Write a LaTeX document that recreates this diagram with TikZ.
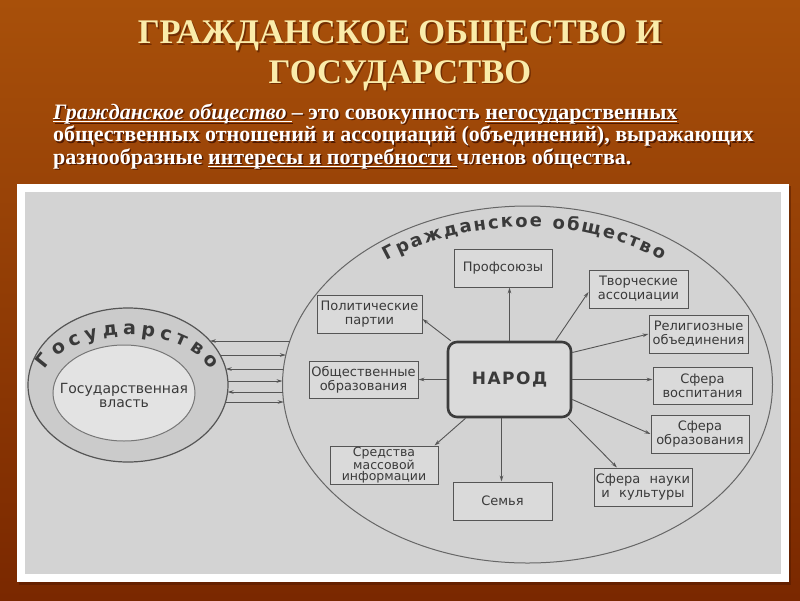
\documentclass[tikz,border=0pt]{standalone}
\usepackage{fontspec}
\setmainfont{Liberation Serif}
\newfontfamily\dgfont{DejaVu Sans}
\usetikzlibrary{arrows.meta,decorations.text,shapes.geometric}
\definecolor{grayb}{HTML}{D3D3D3}
\definecolor{boxf}{HTML}{DADADA}
\definecolor{linec}{HTML}{555555}
\definecolor{txtc}{HTML}{3A3A3A}
\definecolor{ringf}{HTML}{CBCBCB}
\definecolor{innerf}{HTML}{E3E3E3}
\definecolor{titlec}{RGB}{250,236,170}
\definecolor{bgtop}{RGB}{168,80,10}
\definecolor{bgmid}{RGB}{198,104,24}
\definecolor{bgbot}{RGB}{122,40,0}
\definecolor{shadc}{RGB}{80,25,0}
\newcommand\myul[1]{\setbox0\hbox{#1}\rlap{\rule[-3.4pt]{\wd0}{1.4pt}}\box0}
\newcommand\plA{{\itshape\myul{Гражданское общество }}– это совокупность \myul{негосударственных}}
\newcommand\plB{общественных отношений и ассоциаций (объединений), выражающих}
\newcommand\plC{разнообразные \myul{интересы и потребности }членов общества.}
\begin{document}
\begin{tikzpicture}[x=1pt,y=-1pt,
  bx/.style={draw=linec, fill=boxf, line width=1pt, align=center, inner sep=1pt, text=txtc,
    font=\dgfont\fontsize{13}{14}\selectfont, minimum height=38pt},
  arr/.style={draw=linec, line width=0.9pt, -{Stealth[length=6pt,width=3.6pt]}},
  ptext/.style={anchor=base west, inner sep=0pt, font=\fontsize{22}{24}\selectfont\bfseries},
  ttext/.style={anchor=base, inner sep=0pt, font=\fontsize{34.5}{40}\selectfont\bfseries}]
\useasboundingbox (0,0) rectangle (800,600);
\shade[top color=bgtop, middle color=bgmid, bottom color=bgbot] (0,0) rectangle (800,600);
% frame
\fill[shadc, opacity=.5] (19,186) rectangle (791,585);
\fill[white] (17,184) rectangle (789,582);
\fill[grayb] (25,192) rectangle (781,574);
% title
\node[ttext, text=shadc, opacity=.6] (t1s) at (401.5,45) {ГРАЖДАНСКОЕ ОБЩЕСТВО И};
\node[ttext, text=titlec] (t1) at (400,43.5) {ГРАЖДАНСКОЕ ОБЩЕСТВО И};
\node[ttext, text=shadc, opacity=.6] (t2s) at (401.5,84.5) {ГОСУДАРСТВО};
\node[ttext, text=titlec] (t2) at (400,83) {ГОСУДАРСТВО};
% paragraph
\node[ptext, text=shadc] (p1s) at (54.5,120.5) {\plA};
\node[ptext, text=white] (p1) at (53,119) {\plA};
\node[ptext, text=shadc] (p2s) at (54.5,143) {\plB};
\node[ptext, text=white] (p2) at (53,141.5) {\plB};
\node[ptext, text=shadc] (p3s) at (54.5,165.5) {\plC};
\node[ptext, text=white] (p3) at (53,164) {\plC};
% ellipses
\node[ellipse, draw=linec!90, line width=1pt, minimum width=490pt, minimum height=357pt, inner sep=0pt] (soc) at (527.5,384.5) {};
\node[ellipse, draw=linec, fill=ringf, line width=1.2pt, minimum width=200pt, minimum height=154pt, inner sep=0pt] (gos) at (128,385) {};
\node[ellipse, draw=linec!80, fill=innerf, line width=1pt, minimum width=142pt, minimum height=96pt, inner sep=0pt] (gosin) at (124,393) {};
\node[text=txtc, font=\dgfont\fontsize{14}{14}\selectfont, align=center] (vlast) at (124,395) {Государственная\\власть};
\path[decorate, decoration={text along path, text={|\dgfont\bfseries\fontsize{19}{19}\selectfont|Государство}, text align=fit to path, text color=txtc}]
  (45.31,369.87) arc[start angle=200, end angle=340, x radius=88, y radius=53];
\path[decorate, decoration={text along path, text={|\dgfont\bfseries\fontsize{18}{18}\selectfont|Гражданское общество}, text align=fit to path, text color=txtc}]
  (387.0,260.9) arc[start angle=233.5, end angle=306.2, x radius=232, y radius=173];
% boxes
\node[bx, minimum width=98pt] (prof) at (503,268) {Профсоюзы};
\node[bx, minimum width=99pt] (tvor) at (638.5,289) {Творческие\\ассоциации};
\node[bx, minimum width=105pt] (polit) at (369.5,314) {Политические\\партии};
\node[bx, minimum width=99pt] (relig) at (698.5,334) {Религиозные\\объединения};
\node[bx, minimum width=109pt, minimum height=37pt] (obsh) at (363.5,379.5) {Общественные\\образования};
\node[bx, minimum width=99pt, minimum height=37pt] (vosp) at (702.5,385.5) {Сфера\\воспитания};
\node[bx, minimum width=98pt] (obraz) at (700,434) {Сфера\\образования};
\node[bx, minimum width=98pt] (nauka) at (643,487) {Сфера\hspace{0.4em} науки\\и\hspace{0.4em} культуры};
\node[bx, minimum width=99pt] (sem) at (502.5,501) {Семья};
\node[bx, minimum width=108pt, font=\dgfont\fontsize{12.5}{11}\selectfont] (smi) at (384,465) {Средства\\массовой\\информации};
\node[draw={rgb,255:red,60;green,60;blue,60}, fill=boxf, line width=2.6pt, rounded corners=9pt,
  minimum width=123pt, minimum height=75pt, text=txtc,
  font=\dgfont\bfseries\fontsize{17}{17}\selectfont] (narod) at (509.5,379.5) {Н\kern1.5pt А\kern1.5pt Р\kern1.5pt О\kern1.5pt Д};
% arrows from narod
\draw[arr] (narod.north) -- (narod.north |- prof.south);
\draw[arr] ([xshift=46pt]narod.north) -- ([yshift=-3pt]tvor.west);
\draw[arr] ([yshift=27pt]narod.east) -- (relig.west);
\draw[arr] (narod.east) -- (narod.east -| vosp.west);
\draw[arr] ([yshift=-20pt]narod.east) -- (obraz.west);
\draw[arr] ([xshift=-4pt]narod.south east) -- ([xshift=-26pt]nauka.north);
\draw[arr] ([xshift=-8pt]narod.south) -- ([xshift=-8pt]narod.south |- sem.north);
\draw[arr] ([xshift=-44pt]narod.south) -- ([xshift=-4pt]smi.north east);
\draw[arr] (narod.west) -- (obsh.east);
\draw[arr] ([xshift=4pt]narod.north west) -- ([yshift=-5pt]polit.east);
% arrows between state and society
\coordinate (s1) at (210,341);   \coordinate (g1) at (289.9,341);
\coordinate (s2) at (220,355);   \coordinate (g2) at (285.9,355);
\coordinate (s3) at (225.8,369); \coordinate (g3) at (283.4,369);
\coordinate (s4) at (227.9,381); \coordinate (g4) at (282.5,381);
\coordinate (s5) at (227.6,392); \coordinate (g5) at (282.7,392);
\coordinate (s6) at (225.5,402); \coordinate (g6) at (283.7,402);
\draw[arr] (g1) -- (s1);
\draw[arr] (s2) -- (g2);
\draw[arr] (g3) -- (s3);
\draw[arr] (s4) -- (g4);
\draw[arr] (g5) -- (s5);
\draw[arr] (s6) -- (g6);
\end{tikzpicture}
\end{document}
